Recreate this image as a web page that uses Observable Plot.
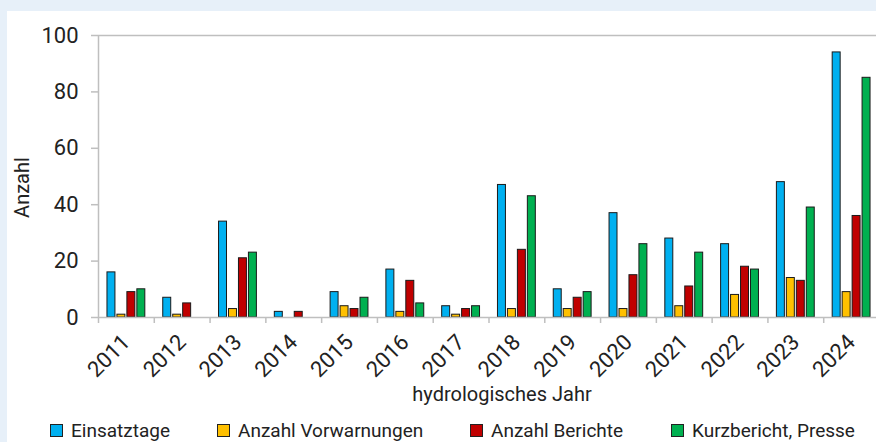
<!DOCTYPE html>
<html><head><meta charset="utf-8">
<script src="https://cdn.jsdelivr.net/npm/d3@7"></script>
<script src="https://cdn.jsdelivr.net/npm/@observablehq/plot@0.6"></script>
<style>
html,body{margin:0;padding:0;overflow:hidden;background:#e7f0f9;width:876px;height:442px;}
#panel{position:absolute;left:7px;top:11px;width:873px;height:440px;background:#fff;}
#chart{position:absolute;left:0;top:0;}
#legend{position:absolute;top:407px;left:0;width:873px;height:24px;font-family:Roboto,"DejaVu Sans",sans-serif;font-size:19px;color:#222;white-space:nowrap;}
.item{position:absolute;top:0;display:flex;align-items:center;height:24px;}
.sw{width:11px;height:11px;border:1px solid #222;margin-right:8px;}
</style>
</head><body>
<div id="panel"><div id="chart"></div><div id="legend"></div></div>
<script>
const years = ["2011","2012","2013","2014","2015","2016","2017","2018","2019","2020","2021","2022","2023","2024"];
const seriesNames = ["Einsatztage","Anzahl Vorwarnungen","Anzahl Berichte","Kurzbericht, Presse"];
const seriesColors = ["#00b0f0","#ffc000","#c00000","#00b050"];
const einsatztage  = [16, 7, 34, 2, 9, 17, 4, 47, 10, 37, 28, 26, 48, 94];
const vorwarnungen = [1, 1, 3, 0, 4, 2, 1, 3, 3, 3, 4, 8, 14, 9];
const berichte     = [9, 5, 21, 2, 3, 13, 3, 24, 7, 15, 11, 18, 13, 36];
const kurzbericht  = [10, 0, 23, 0, 7, 5, 4, 43, 9, 26, 23, 17, 39, 85];
const yTicks = [0, 20, 40, 60, 80, 100];
const xLabel = "hydrologisches Jahr";
const yLabel = "Anzahl";
const legendLeft = [43, 210, 463, 664];

const seriesValues = [einsatztage, vorwarnungen, berichte, kurzbericht];
const rows = [];
years.forEach((yr, i) => {
  seriesNames.forEach((s, k) => {
    rows.push({i, year: yr, series: s, value: seriesValues[k][i]});
  });
});
const sub = d3.scaleBand(seriesNames, [0, 1]).paddingInner(0.2).paddingOuter(0.9);
const font = 'Roboto,"DejaVu Sans",sans-serif';
const gray = "#bfbfbf";

const chart = Plot.plot({
  width: 873, height: 398,
  marginLeft: 91, marginRight: 1, marginTop: 24, marginBottom: 92,
  style: {fontFamily: font, color: "#222", background: "transparent"},
  x: {type: "linear", domain: [0, years.length], axis: null},
  y: {domain: [0, 100], axis: null},
  color: {domain: seriesNames, range: seriesColors},
  marks: [
    Plot.ruleY([100], {stroke: gray, strokeWidth: 1.5}),
    Plot.axisY({ticks: yTicks, tickSize: 7, tickPadding: 13, stroke: gray, strokeWidth: 1.5, fill: "#222", fontSize: 22, label: null}),
    Plot.axisX({ticks: d3.range(years.length + 1), tickSize: 6, tickFormat: () => "", stroke: gray, strokeWidth: 1.5, label: null}),
    Plot.axisX({ticks: years.map((_, i) => i + 0.5), tickSize: 0, tickPadding: 21, tickRotate: -45, tickFormat: d => years[Math.floor(d)], fill: "#222", fontSize: 22, label: null}),
    Plot.rectY(rows.filter(d => d.value > 0), {
      x1: d => d.i + sub(d.series),
      x2: d => d.i + sub(d.series) + sub.bandwidth(),
      y1: 0, y2: "value", fill: "series", stroke: "#1a1a1a", strokeWidth: 1
    }),
    Plot.ruleY([0], {stroke: gray, strokeWidth: 1.5}),
    Plot.ruleX([0], {y1: 0, y2: 100, stroke: gray, strokeWidth: 1.5}),
    Plot.text([yLabel], {frameAnchor: "left", textAnchor: "middle", lineAnchor: "middle", rotate: -90, dx: -76, dy: 11, fontSize: 20, fill: "#222"}),
    Plot.text([xLabel], {frameAnchor: "bottom", textAnchor: "middle", lineAnchor: "middle", dx: 13, dy: 77, fontSize: 20, fill: "#222"})
  ]
});
document.getElementById("chart").appendChild(chart);

const legend = document.getElementById("legend");
seriesNames.forEach((s, k) => {
  const it = document.createElement("div");
  it.className = "item";
  it.style.left = legendLeft[k] + "px";
  const sw = document.createElement("span");
  sw.className = "sw";
  sw.style.background = seriesColors[k];
  const t = document.createElement("span");
  t.textContent = s;
  it.appendChild(sw); it.appendChild(t);
  legend.appendChild(it);
});
</script>
</body></html>
